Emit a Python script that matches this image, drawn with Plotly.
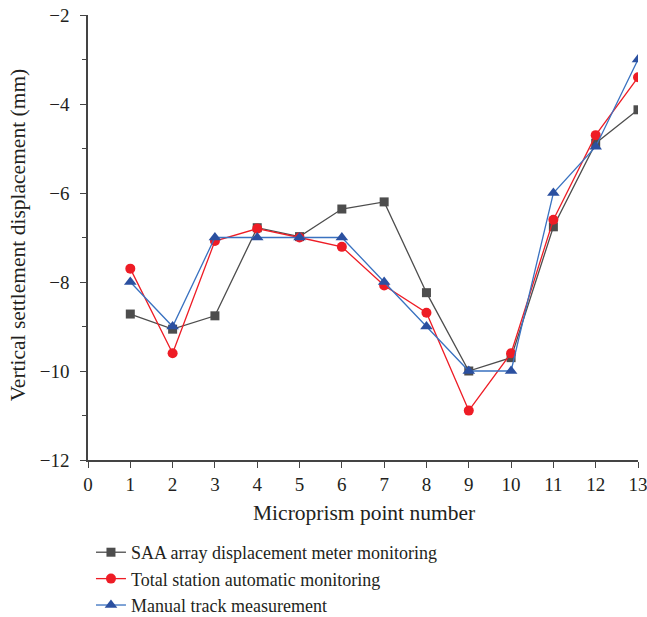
import plotly.graph_objects as go

points = list(range(1, 14))
saa = [-8.72, -9.06, -8.76, -6.78, -6.98, -6.36, -6.20, -8.24, -10.0, -9.70, -6.76, -4.88, -4.13]
total = [-7.70, -9.60, -7.08, -6.80, -7.00, -7.21, -8.08, -8.69, -10.89, -9.60, -6.60, -4.70, -3.40]
manual = [-8.0, -9.0, -7.0, -7.0, -7.0, -7.0, -8.0, -9.0, -10.0, -10.0, -6.0, -4.96, -3.0]

names = ["SAA array displacement meter monitoring",
         "Total station automatic monitoring",
         "Manual track measurement"]
y_title = "Vertical settlement displacement (mm)"
x_title = "Microprism point number"

FONT = "Liberation Serif, Times New Roman, serif"
TXT = "#231f20"

fig = go.Figure()
fig.add_trace(go.Scatter(x=points, y=saa, name=names[0], mode="lines+markers",
                         line=dict(color="#4d4d4d", width=1.3),
                         marker=dict(symbol="square", size=9, color="#4d4d4d"),
                         legendgroup="a"))
fig.add_trace(go.Scatter(x=points, y=total, name=names[1], mode="lines+markers",
                         line=dict(color="#ee1c25", width=1.3),
                         marker=dict(symbol="circle", size=10, color="#ee1c25"),
                         legendgroup="b"))
fig.add_trace(go.Scatter(x=points, y=manual, name=names[2], mode="lines+markers",
                         line=dict(color="#3a72c0", width=1.3),
                         marker=dict(symbol="triangle-up", size=11, color="#2b50a0"),
                         legendgroup="c"))

fig.update_layout(
    width=647, height=617,
    margin=dict(l=88, r=9, t=15, b=157, autoexpand=False),
    paper_bgcolor="white", plot_bgcolor="white",
    font=dict(family=FONT, size=19, color=TXT),
    showlegend=True,
    legend=dict(orientation="v", xref="container", yref="container",
                x=0.1406, xanchor="left", y=0.1345, yanchor="top",
                traceorder="grouped", tracegroupgap=0,
                font=dict(size=18, family=FONT, color=TXT),
                bgcolor="rgba(0,0,0,0)"),
    xaxis=dict(range=[0, 13], dtick=1, tick0=0, ticks="outside", ticklen=6, tickwidth=1.2,
               tickcolor="#444", showline=True, linecolor="#444", linewidth=1.5,
               showgrid=False, zeroline=False, tickfont=dict(size=19),
               ticklabeloverflow="allow"),
    yaxis=dict(range=[-12, -2], dtick=2, tick0=-12, ticks="outside", ticklen=6, tickwidth=1.2,
               tickcolor="#444", showline=True, linecolor="#444", linewidth=1.5,
               showgrid=False, zeroline=False, tickfont=dict(size=19),
               ticklabeloverflow="allow", ticklabelstandoff=7,
               minor=dict(dtick=1, ticks="outside", ticklen=4, tickcolor="#444", showgrid=False)),
    annotations=[
        dict(text=y_title, xref="paper", yref="paper", x=-70 / 550, y=0.505,
             xanchor="center", yanchor="middle", textangle=-90, showarrow=False,
             font=dict(size=21.5, family=FONT, color=TXT)),
        dict(text=x_title, xref="paper", yref="paper", x=0.502, y=-53 / 445,
             xanchor="center", yanchor="middle", showarrow=False,
             font=dict(size=21.5, family=FONT, color=TXT)),
    ],
)

fig.write_html("out.html")
